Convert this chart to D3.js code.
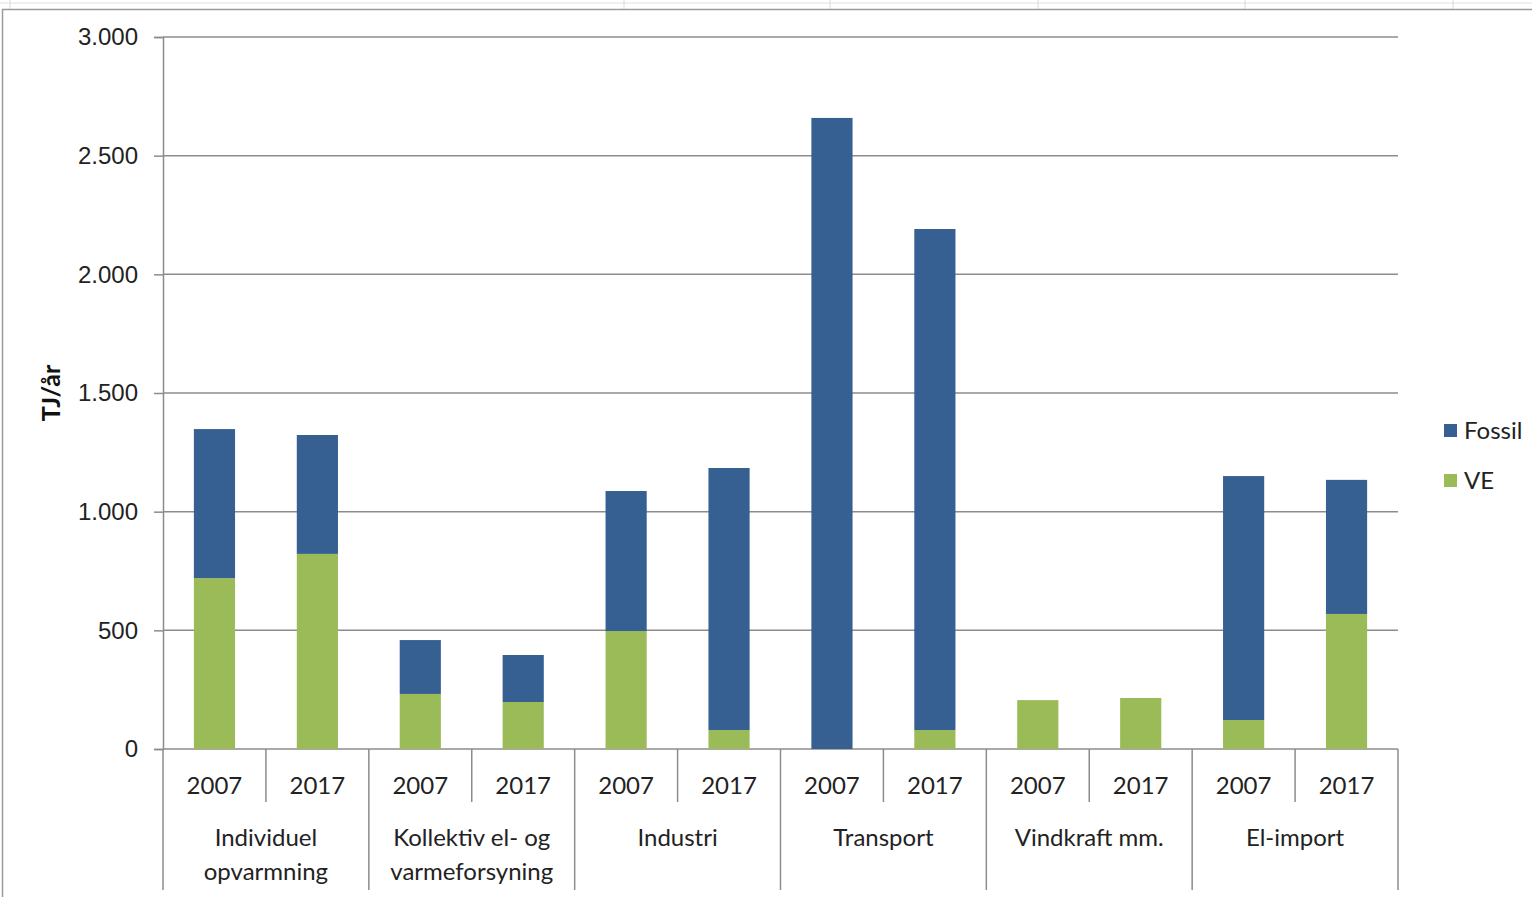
<!DOCTYPE html>
<html>
<head>
<meta charset="utf-8">
<script src="https://cdn.jsdelivr.net/npm/d3@7"></script>
<style>
  body { margin: 0; background: #fff; }
  svg { display: block; font-family: Lato, "Open Sans", sans-serif; }
</style>
</head>
<body>
<div id="chart"></div>
<script>
// Data (TJ/år)
const groups = ["Individuel opvarmning", "Kollektiv el- og varmeforsyning", "Industri", "Transport", "Vindkraft mm.", "El-import"];
const years = ["2007", "2017"];
const veValues = [720, 822, 232, 198, 497, 80, 0, 80, 206, 215, 122, 569];
const fossilValues = [628, 501, 227, 198, 590, 1104, 2659, 2111, 0, 0, 1028, 565];
const seriesNames = ["VE", "Fossil"];
const colors = { Fossil: "#366092", VE: "#9bbb59" };
const yTicks = [0, 500, 1000, 1500, 2000, 2500, 3000];

const W = 1532, H = 897;
const margin = { left: 163, right: 134, top: 37, bottom: 148 };
const plotW = W - margin.left - margin.right;
const plotH = H - margin.top - margin.bottom;
const fs = 24;

const svg = d3.select("#chart").append("svg")
  .attr("width", W)
  .attr("height", H);

// spreadsheet cells peeking above the chart frame
const cellX = [10, 624, 830, 1038, 1245, 1453];
svg.append("line").attr("x1", 0).attr("x2", W).attr("y1", 3).attr("y2", 3)
  .attr("stroke", "#e0e0e0").attr("stroke-width", 1);
svg.selectAll(".cell").data(cellX).enter().append("line")
  .attr("x1", d => d).attr("x2", d => d).attr("y1", 0).attr("y2", 9)
  .attr("stroke", "#dadada");
// chart frame
svg.append("rect")
  .attr("x", 2.5).attr("y", 9.5).attr("width", W + 10).attr("height", H + 10)
  .attr("fill", "#fff").attr("stroke", "#9a9a9a").attr("stroke-width", 1.5);

const rows = [];
groups.forEach((g, i) => years.forEach((yr, j) => {
  const k = i * years.length + j;
  rows.push({ key: g + "|" + yr, group: g, year: yr, VE: veValues[k], Fossil: fossilValues[k] });
}));

const x = d3.scaleBand()
  .domain(rows.map(d => d.key))
  .range([margin.left, margin.left + plotW])
  .paddingInner(0.6)
  .paddingOuter(0.3);

const y = d3.scaleLinear()
  .domain([0, 3000])
  .range([margin.top + plotH, margin.top]);

const locale = d3.formatLocale({ decimal: ",", thousands: ".", grouping: [3], currency: ["", " kr"] });
const fmt = locale.format(",d");

// gridlines + y axis
const yAxis = svg.append("g")
  .attr("transform", `translate(${margin.left},0)`)
  .call(d3.axisLeft(y).tickValues(yTicks).tickFormat(fmt).tickSize(9).tickPadding(16));
yAxis.select(".domain").attr("stroke", "#8c8c8c").attr("stroke-width", 1.5);
yAxis.selectAll(".tick line").attr("stroke", "#8c8c8c").attr("stroke-width", 1.5);
yAxis.selectAll(".tick text").attr("font-size", fs).attr("fill", "#222");

svg.append("g").selectAll("line").data(yTicks).enter().append("line")
  .attr("x1", margin.left).attr("x2", margin.left + plotW)
  .attr("y1", d => y(d)).attr("y2", d => y(d))
  .attr("stroke", "#8c8c8c").attr("stroke-width", 1.5);

svg.append("text")
  .attr("transform", `translate(60,${y(1500)}) rotate(-90)`)
  .attr("text-anchor", "middle")
  .attr("font-size", 25).attr("font-weight", "bold").attr("fill", "#111")
  .text("TJ/år");

// stacked bars
const stack = d3.stack().keys(seriesNames);
const layers = stack(rows);
svg.append("g").selectAll("g").data(layers).enter().append("g")
  .attr("fill", d => colors[d.key])
  .selectAll("rect").data(d => d).enter().append("rect")
  .attr("x", d => x(d.data.key))
  .attr("width", x.bandwidth())
  .attr("y", d => y(d[1]))
  .attr("height", d => y(d[0]) - y(d[1]));

// category axis (two levels)
const base = y(0);
const step = x.step();
const cat = svg.append("g").attr("stroke", "#8c8c8c").attr("stroke-width", 1.5);
rows.forEach((d, i) => {
  const left = x(d.key) + x.bandwidth() / 2 - step / 2;
  const groupEdge = i % years.length === 0;
  cat.append("line")
    .attr("x1", left).attr("x2", left)
    .attr("y1", base).attr("y2", groupEdge ? base + 141 : base + 53);
});
const rightEdge = margin.left + plotW;
cat.append("line").attr("x1", rightEdge).attr("x2", rightEdge).attr("y1", base).attr("y2", base + 141);

svg.append("g").selectAll("text").data(rows).enter().append("text")
  .attr("x", d => x(d.key) + x.bandwidth() / 2)
  .attr("y", base + 45)
  .attr("text-anchor", "middle")
  .attr("font-size", fs).attr("fill", "#222")
  .text(d => d.year);

const groupLabel = svg.append("g").selectAll("text").data(groups).enter().append("text")
  .attr("text-anchor", "middle")
  .attr("font-size", fs).attr("fill", "#222")
  .attr("x", g => {
    const a = x(g + "|" + years[0]), b = x(g + "|" + years[years.length - 1]);
    return (a + b + x.bandwidth()) / 2;
  })
  .attr("y", base + 97);
const wrapped = {
  "Individuel opvarmning": ["Individuel", "opvarmning"],
  "Kollektiv el- og varmeforsyning": ["Kollektiv el- og", "varmeforsyning"]
};
groupLabel.each(function (g) {
  const lines = wrapped[g] || [g];
  const t = d3.select(this);
  const cx = t.attr("x");
  lines.forEach((ln, i) => {
    t.append("tspan").attr("x", cx).attr("dy", i === 0 ? 0 : 34).text(ln);
  });
});

// legend
const legend = svg.append("g").attr("transform", "translate(1444,424)");
["Fossil", "VE"].forEach((s, i) => {
  const row = legend.append("g").attr("transform", `translate(0,${i * 50})`);
  row.append("rect").attr("width", 13).attr("height", 13).attr("fill", colors[s]);
  row.append("text").attr("x", 20).attr("y", 15).attr("font-size", fs).attr("fill", "#222").text(s);
});
</script>
</body>
</html>
